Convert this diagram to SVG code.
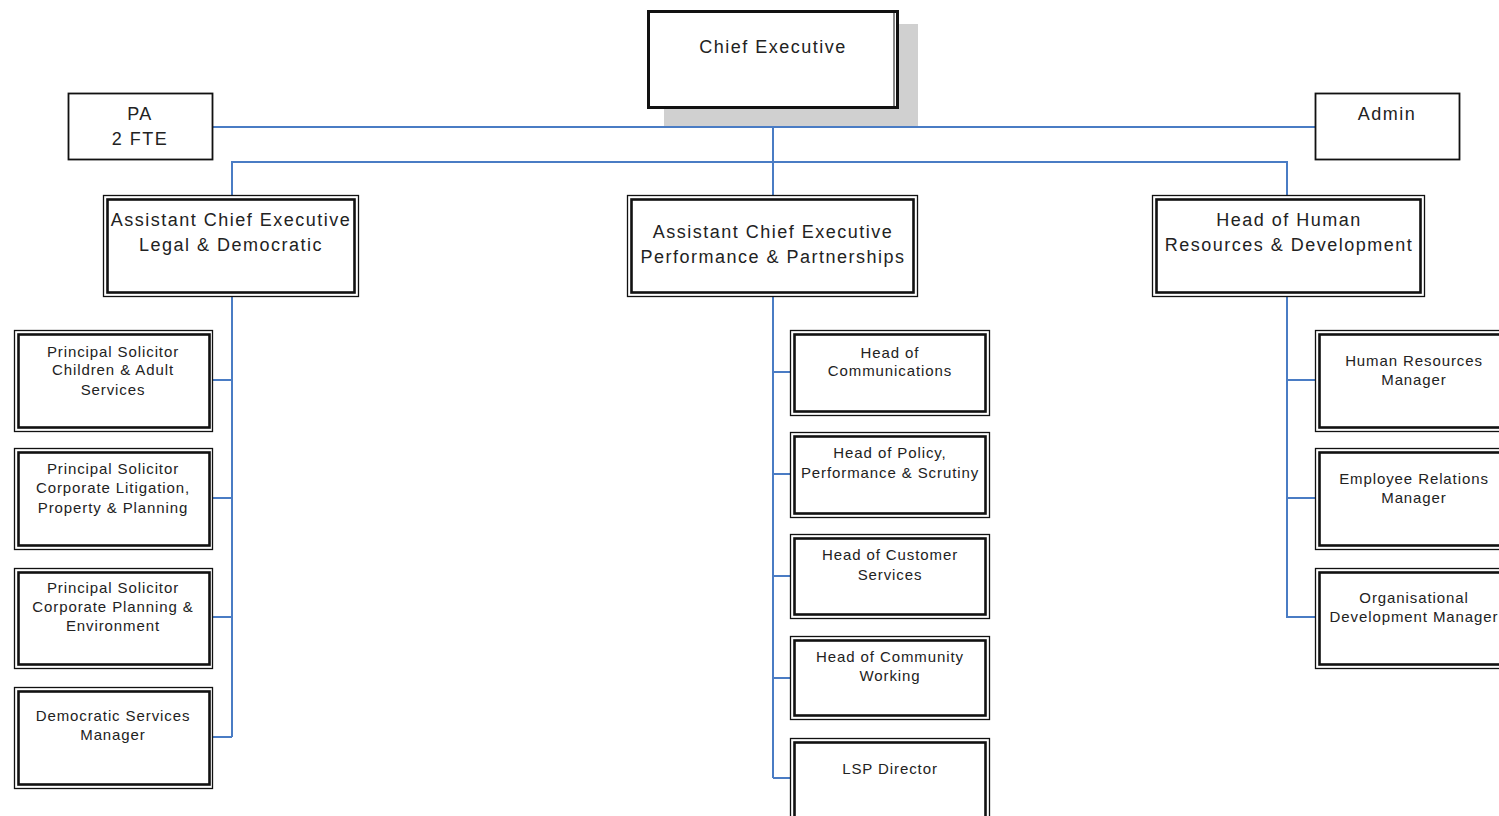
<svg xmlns="http://www.w3.org/2000/svg" width="1499" height="816" viewBox="0 0 1499 816">
<style>
text{font-family:"Liberation Sans",Arial,sans-serif;fill:#222;text-anchor:middle}
.big{font-size:18px;letter-spacing:1.5px}
.sm{font-size:15px;letter-spacing:0.9px}
.o{fill:#fff;stroke:#111;stroke-width:1.3}
.i{fill:none;stroke:#111;stroke-width:2.6}
.s{fill:#fff;stroke:#111;stroke-width:1.8}
.c{fill:none;stroke:#4a7cc4;stroke-width:2}
</style>
<rect width="1499" height="816" fill="#fff"/>
<g id="connectors">
<path class="c" d="M212 127H1315M773 109V778M232 195V162H1287V195"/>
<path class="c" d="M232 297V737M212 380H232M212 498H232M212 617H232M212 737H232"/>
<path class="c" d="M773 372H790M773 474H790M773 576H790M773 678H790M773 778H790"/>
<path class="c" d="M1287 297V617H1315M1287 380H1315M1287 498H1315"/>
</g>
<g id="chief-executive">
<rect x="664" y="24" width="254" height="102" fill="#d0d0d0"/>
<rect x="648.5" y="11.5" width="249" height="96" fill="#fff" stroke="#111" stroke-width="3"/>
<line x1="894" y1="12" x2="894" y2="107" stroke="#111" stroke-width="1"/>
<text class="big" x="773" y="53">Chief Executive</text>
</g>
<g id="pa"><rect class="s" x="68.5" y="93.5" width="144" height="66"/><text class="big" x="140" y="120">PA</text><text class="big" x="140" y="145">2 FTE</text></g>
<g id="admin"><rect class="s" x="1315.5" y="93.5" width="144" height="66"/><text class="big" x="1387" y="120">Admin</text></g>
<g id="ace-legal"><rect class="o" x="103.5" y="195.5" width="255" height="101"/><rect class="i" x="107.5" y="199.5" width="247" height="93"/><text class="big" x="231" y="226">Assistant Chief Executive</text><text class="big" x="231" y="251">Legal &amp; Democratic</text></g>
<g id="ace-performance"><rect class="o" x="627.5" y="195.5" width="290" height="101"/><rect class="i" x="631.5" y="199.5" width="282" height="93"/><text class="big" x="773" y="238">Assistant Chief Executive</text><text class="big" x="773" y="263">Performance &amp; Partnerships</text></g>
<g id="head-hr"><rect class="o" x="1152.5" y="195.5" width="272" height="101"/><rect class="i" x="1156.5" y="199.5" width="264" height="93"/><text class="big" x="1289" y="226">Head of Human</text><text class="big" x="1289" y="251">Resources &amp; Development</text></g>
<g id="ps-children"><rect class="o" x="14.5" y="330.5" width="198" height="101"/><rect class="i" x="18.5" y="334.5" width="191" height="93"/><text class="sm" x="113" y="357">Principal Solicitor</text><text class="sm" x="113" y="375">Children &amp; Adult</text><text class="sm" x="113" y="395">Services</text></g>
<g id="ps-litigation"><rect class="o" x="14.5" y="448.5" width="198" height="101"/><rect class="i" x="18.5" y="452.5" width="191" height="93"/><text class="sm" x="113" y="474">Principal Solicitor</text><text class="sm" x="113" y="493">Corporate Litigation,</text><text class="sm" x="113" y="513">Property &amp; Planning</text></g>
<g id="ps-planning"><rect class="o" x="14.5" y="568.5" width="198" height="100"/><rect class="i" x="18.5" y="572.5" width="191" height="92"/><text class="sm" x="113" y="593">Principal Solicitor</text><text class="sm" x="113" y="612">Corporate Planning &amp;</text><text class="sm" x="113" y="631">Environment</text></g>
<g id="democratic-services"><rect class="o" x="14.5" y="687.5" width="198" height="101"/><rect class="i" x="18.5" y="691.5" width="191" height="93"/><text class="sm" x="113" y="721">Democratic Services</text><text class="sm" x="113" y="740">Manager</text></g>
<g id="head-communications"><rect class="o" x="790.5" y="330.5" width="199" height="85"/><rect class="i" x="794.5" y="334.5" width="191" height="77"/><text class="sm" x="890" y="358">Head of</text><text class="sm" x="890" y="376">Communications</text></g>
<g id="head-policy"><rect class="o" x="790.5" y="432.5" width="199" height="85"/><rect class="i" x="794.5" y="436.5" width="191" height="77"/><text class="sm" x="890" y="458">Head of Policy,</text><text class="sm" x="890" y="478">Performance &amp; Scrutiny</text></g>
<g id="head-customer"><rect class="o" x="790.5" y="534.5" width="199" height="84"/><rect class="i" x="794.5" y="538.5" width="191" height="76"/><text class="sm" x="890" y="560">Head of Customer</text><text class="sm" x="890" y="580">Services</text></g>
<g id="head-community"><rect class="o" x="790.5" y="636.5" width="199" height="83"/><rect class="i" x="794.5" y="640.5" width="191" height="75"/><text class="sm" x="890" y="662">Head of Community</text><text class="sm" x="890" y="681">Working</text></g>
<g id="lsp-director"><rect class="o" x="790.5" y="738.5" width="199" height="85"/><rect class="i" x="794.5" y="742.5" width="191" height="77"/><text class="sm" x="890" y="774">LSP Director</text></g>
<g id="hr-manager"><rect class="o" x="1315.5" y="330.5" width="200" height="101"/><rect class="i" x="1319.5" y="334.5" width="192" height="93"/><text class="sm" x="1414" y="366">Human Resources</text><text class="sm" x="1414" y="385">Manager</text></g>
<g id="er-manager"><rect class="o" x="1315.5" y="448.5" width="200" height="101"/><rect class="i" x="1319.5" y="452.5" width="192" height="93"/><text class="sm" x="1414" y="484">Employee Relations</text><text class="sm" x="1414" y="503">Manager</text></g>
<g id="od-manager"><rect class="o" x="1315.5" y="568.5" width="200" height="100"/><rect class="i" x="1319.5" y="572.5" width="192" height="92"/><text class="sm" x="1414" y="603">Organisational</text><text class="sm" x="1414" y="622">Development Manager</text></g>
</svg>
